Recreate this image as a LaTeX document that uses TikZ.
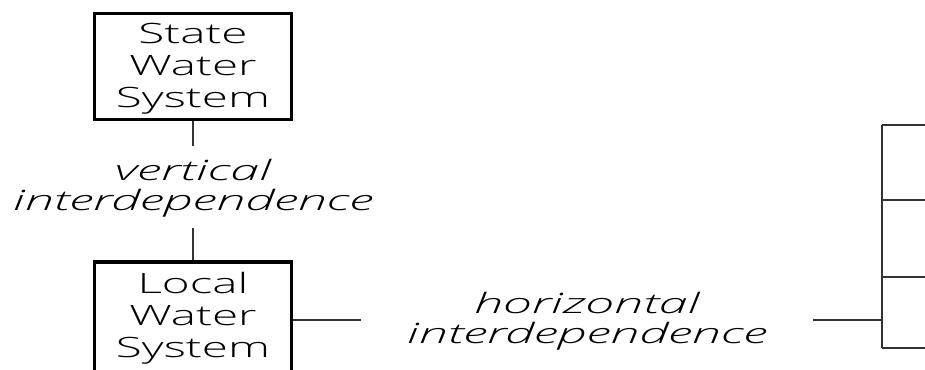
\documentclass[tikz,border=0pt]{standalone}
\usepackage{fontspec}
\setmainfont{Open Sans}[UprightFont=* Light, FakeStretch=1.7]
\newfontfamily\linkfont{Open Sans}[UprightFont=* Light Italic, FakeStretch=1.86]
\begin{document}
\begin{tikzpicture}[x=1pt,y=-1pt,
  sysbox/.style={draw=black,line width=3.2pt,minimum width=197pt,align=center,
    font=\fontsize{28}{32}\selectfont,inner sep=0pt},
  linklabel/.style={align=center,font=\fontsize{28}{30}\selectfont\linkfont,inner sep=0pt},
  wire/.style={draw=black!80,line width=1.4pt},
  trunk/.style={draw=black!80,line width=2.4pt}]
\useasboundingbox (0,0) rectangle (925,369);
\clip (0,0) rectangle (925,369);

% the two water systems
\node[sysbox,minimum height=106pt] (state) at (193,66.5) {};
\node[sysbox,minimum height=116pt] (local) at (193,320) {};
\node[align=center,font=\fontsize{28}{32}\selectfont,inner sep=0pt] (statetxt) at (193,68.5) {State\\Water\\System};
\node[align=center,font=\fontsize{28}{32}\selectfont,inner sep=0pt] (localtxt) at (193,318) {Local\\Water\\System};

% link labels
\node[linklabel] (vlab) at (193,188) {vertical\\interdependence};
\node[linklabel] (hlab) at (587,321) {horizontal\\interdependence};

% vertical link
\coordinate (v1) at (193,146);
\coordinate (v2) at (193,228);
\draw[wire] (state.south) -- (v1);
\draw[wire] (v2) -- (local.north);

% horizontal link
\coordinate (h1) at (361,320);
\coordinate (h2) at (813,320);
\coordinate (hj) at (882,320);
\draw[wire] (local.east) -- (h1);
\draw[wire] (h2) -- (hj);

% branching bracket on the right
\coordinate (t1) at (882,125);
\coordinate (t4) at (882,348);
\draw[trunk] (t1) -- (t4);
\foreach \yy [count=\i] in {125,200,277,348} {
  \coordinate (b\i) at (882,\yy);
  \coordinate (e\i) at (935,\yy);
  \draw[wire] (b\i) -- (e\i);
}
\end{tikzpicture}
\end{document}
